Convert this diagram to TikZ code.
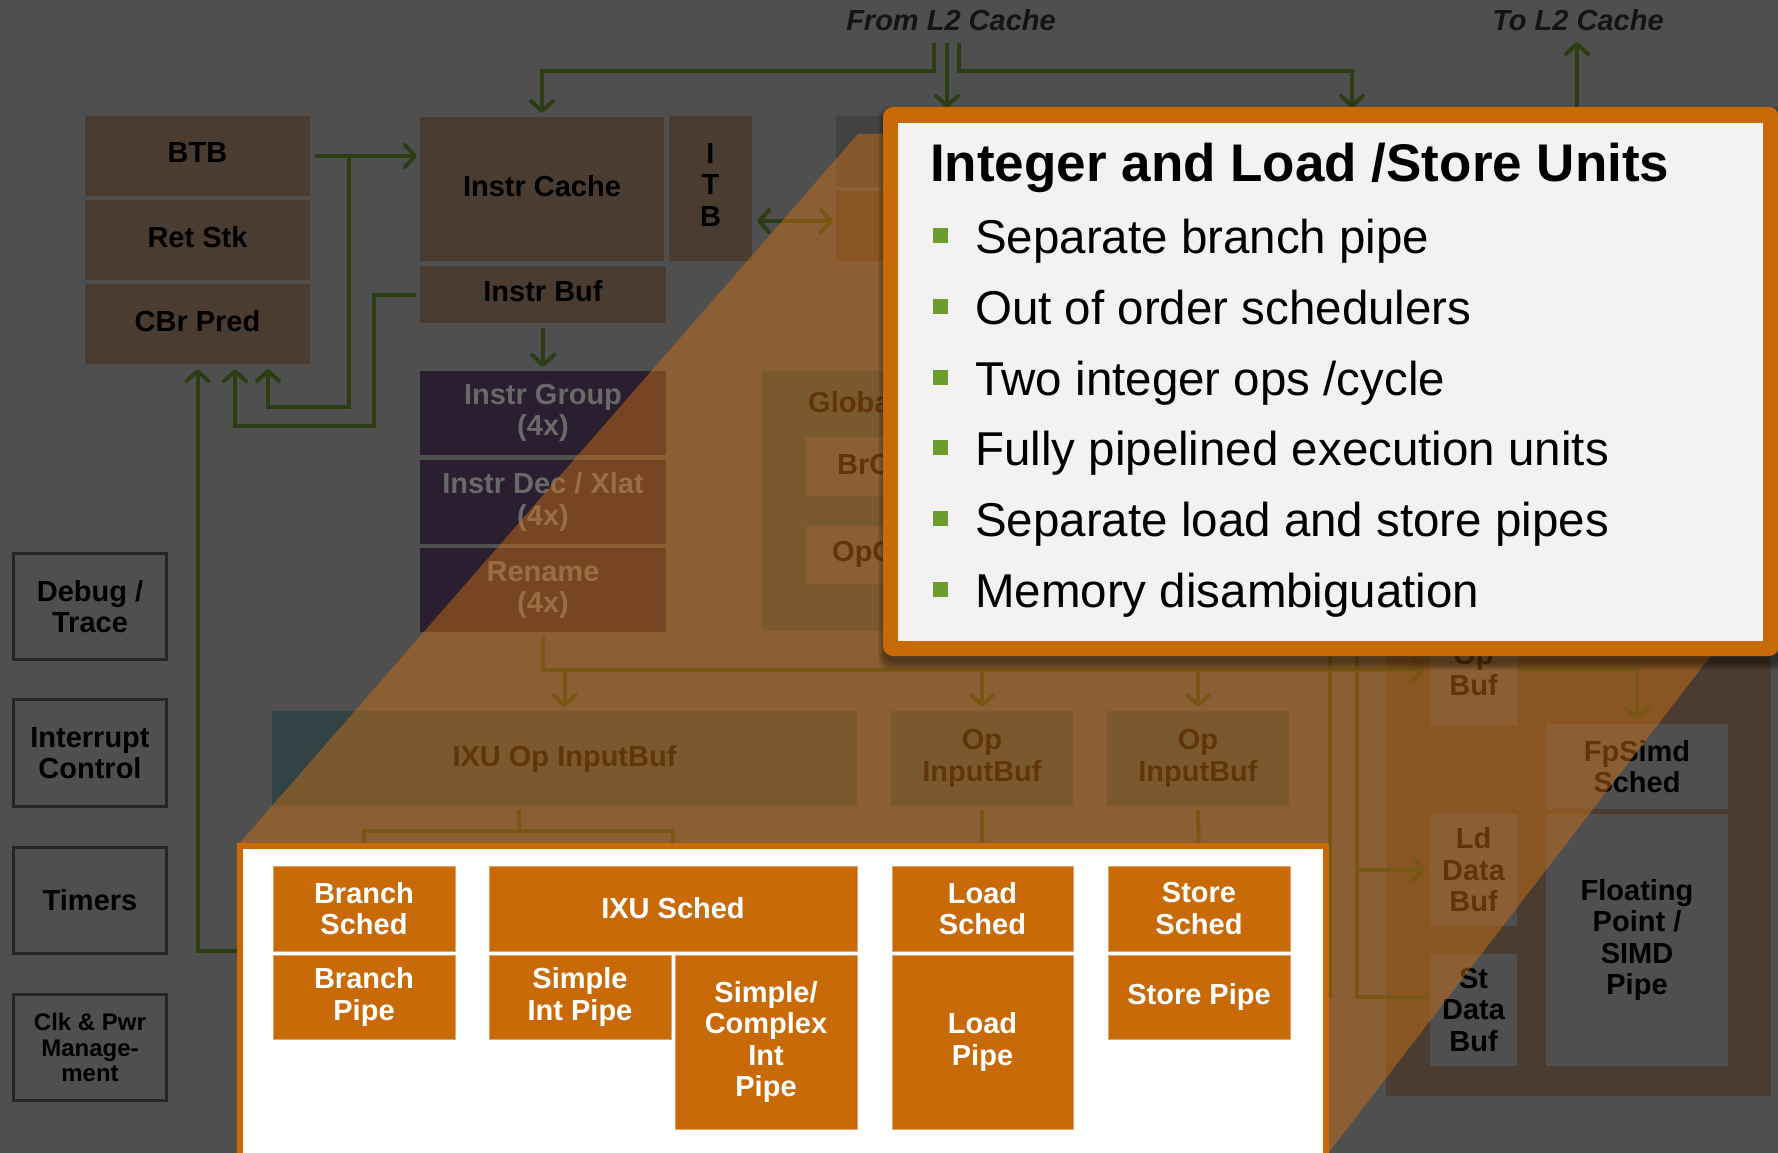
\documentclass[tikz,border=0pt]{standalone}
\usepackage{fontspec}
\setmainfont{Liberation Sans}
\usetikzlibrary{arrows.meta}

\definecolor{bgc}{RGB}{79,79,79}
\definecolor{brownblk}{RGB}{74,60,48}
\definecolor{purpleblk}{RGB}{42,30,48}
\definecolor{tealblk}{RGB}{50,67,69}
\definecolor{grayblk}{RGB}{66,66,66}
\definecolor{wirec}{RGB}{44,61,20}
\definecolor{orng}{RGB}{201,106,8}
\definecolor{tintc}{RGB}{211,116,20}
\definecolor{panelc}{RGB}{242,242,242}
\definecolor{bulletc}{RGB}{110,155,45}
\definecolor{outlc}{RGB}{38,38,38}
\definecolor{dimtxt}{RGB}{105,105,105}

\newcommand\lblfont{\fontsize{29}{31.5}\selectfont\bfseries}
\newcommand\clkfont{\fontsize{24}{25.5}\selectfont\bfseries}
\newcommand\calltitlefont{\fontsize{53}{60}\selectfont\bfseries}
\newcommand\callitemfont{\fontsize{47.5}{56}\selectfont}

\pgfdeclarelayer{diag}
\pgfdeclarelayer{tintl}
\pgfdeclarelayer{panel}
\pgfsetlayers{diag,tintl,panel,main}

\tikzset{
  blk/.style 2 args={rectangle, inner sep=0pt, outer sep=0pt, anchor=north west,
    minimum width=#1pt, minimum height=#2pt, align=center, font=\lblfont, text=black},
  raised/.style={text depth=7pt},
  side/.style 2 args={rectangle, inner sep=0pt, outer sep=0pt, anchor=north west,
    draw=outlc, line width=3pt, minimum width=#1pt, minimum height=#2pt,
    align=center, font=\lblfont, text=black},
  obox/.style 2 args={rectangle, inner sep=0pt, outer sep=0pt, anchor=north west,
    minimum width=#1pt, minimum height=#2pt, fill=orng, draw=orng!60!white,
    line width=0.8pt, align=center, font=\lblfont, text=white},
  wire/.style={draw=wirec, line width=4pt},
  arr/.style={wire, -{Straight Barb[length=10pt,width=22pt,round]}, shorten >=3pt},
  darr/.style={wire, {Straight Barb[length=10pt,width=22pt,round]}-{Straight Barb[length=10pt,width=22pt,round]}},
  bsq/.style={rectangle, fill=bulletc, inner sep=0pt, minimum size=15pt},
  itm/.style={anchor=base west, font=\callitemfont, text=black, inner sep=0pt},
}

\begin{document}
\begin{tikzpicture}[x=1pt,y=-1pt]
\useasboundingbox (0,0) rectangle (1778,1153);

\begin{pgfonlayer}{diag}
\fill[bgc] (0,0) rectangle (1778,1153);

% ---------- front end ----------
\node[blk={225}{80}, raised, fill=brownblk] (btb) at (85,116) {BTB};
\node[blk={225}{80}, raised, fill=brownblk] (retstk) at (85,200) {Ret Stk};
\node[blk={225}{80}, raised, fill=brownblk] (cbr) at (85,284) {CBr Pred};
\node[blk={244}{144}, raised, fill=brownblk] (icache) at (420,117) {Instr Cache};
\node[blk={83}{145}, raised, fill=brownblk] (itb) at (669,116) {I\\T\\B};
\node[blk={246}{57}, raised, fill=brownblk] (ibuf) at (420,266) {Instr Buf};
\node[blk={246}{84}, fill=purpleblk, text=dimtxt] (igrp) at (420,371) {Instr Group\\(4x)};
\node[blk={246}{84}, fill=purpleblk, text=dimtxt] (idec) at (420,460) {Instr Dec / Xlat\\(4x)};
\node[blk={246}{84}, fill=purpleblk, text=dimtxt] (rename) at (420,548) {Rename\\(4x)};
\node[blk={100}{71}, fill=grayblk] (tlbu) at (836,116) {};
\node[blk={100}{70}, fill=brownblk] (tlbl) at (836,191) {};

% ---------- global / op caches ----------
\node[blk={230}{260}, fill=tealblk] (glob) at (762,371) {};
\node[blk={150}{59}, fill=bgc] (brc) at (806,437) {};
\node[blk={150}{58}, fill=bgc] (opc) at (806,526) {};
\node[anchor=west, inner sep=0pt, font=\lblfont] (globt) at (808,402) {Global};
\node[anchor=west, inner sep=0pt, font=\lblfont] (brct) at (837,465) {BrC};
\node[anchor=west, inner sep=0pt, font=\lblfont] (opct) at (832,554) {OpC};

% ---------- input buffers ----------
\node[blk={585}{95}, fill=tealblk] (ixu) at (272,711) {IXU Op InputBuf};
\node[blk={182}{95}, fill=tealblk] (opib1) at (891,711) {Op\\InputBuf};
\node[blk={182}{95}, fill=tealblk] (opib2) at (1107,711) {Op\\InputBuf};

% ---------- floating point ----------
\node[blk={385}{536}, fill=brownblk] (fpout) at (1386,560) {};
\node[blk={87}{112}, fill=bgc] (opbuf) at (1430,614) {Op\\Buf};
\node[blk={182}{85}, fill=bgc] (fpsch) at (1546,724) {FpSimd\\Sched};
\node[blk={87}{112}, fill=bgc] (lddb) at (1430,814) {Ld\\Data\\Buf};
\node[blk={87}{112}, fill=bgc] (stdb) at (1430,954) {St\\Data\\Buf};
\node[blk={182}{252}, fill=bgc] (fppipe) at (1546,814) {Floating\\Point /\\SIMD\\Pipe};

% ---------- side blocks ----------
\node[side={153}{106}] (debug) at (13.5,553.5) {Debug /\\Trace};
\node[side={153}{107}] (intr) at (13.5,699.5) {Interrupt\\Control};
\node[side={153}{106}] (timers) at (13.5,847.5) {Timers};
\node[side={153}{106}, font=\clkfont] (clk) at (13.5,994.5) {Clk \& Pwr\\Manage-\\ment};

% ---------- L2 labels ----------
\node[font=\lblfont\itshape, text=black!92] (froml2) at (951,20) {From L2 Cache};
\node[font=\lblfont\itshape, text=black!92] (tol2) at (1578,20) {To L2 Cache};
\end{pgfonlayer}

% ---------- integer / load-store blocks ----------
\node[obox={182}{85}] (bsched) at (273,866) {Branch\\Sched};
\node[obox={182}{84}] (bpipe) at (273,955) {Branch\\Pipe};
\node[obox={368}{85}] (ixusched) at (489,866) {IXU Sched};
\node[obox={182}{84}] (simpint) at (489,955) {Simple\\Int Pipe};
\node[obox={182}{174}] (cplx) at (675,955) {Simple/\\Complex\\Int\\Pipe};
\node[obox={181}{85}] (lsched) at (892,866) {Load\\Sched};
\node[obox={181}{174}] (lpipe) at (892,955) {Load\\Pipe};
\node[obox={182}{85}] (ssched) at (1108,866) {Store\\Sched};
\node[obox={182}{84}] (spipe) at (1108,955) {Store Pipe};

% ---------- connectors ----------
\begin{pgfonlayer}{diag}
\coordinate (l2a) at (934,43);
\coordinate (l2b) at (947,43);
\coordinate (l2c) at (959,43);
\coordinate (l2ta) at (542,71);
\coordinate (l2tc) at (1352,71);
\coordinate (l2db) at (947,108);
\coordinate (l2dc) at (1352,108);
\coordinate (tl2s) at (1577,112);
\coordinate (tl2e) at (1577,42);
\draw[arr, shorten >=4pt] (l2a) |- (l2ta) -- (icache.north);
\draw[arr, shorten >=0pt] (l2b) -- (l2db);
\draw[arr, shorten >=0pt] (l2c) |- (l2tc) -- (l2dc);
\draw[arr, shorten >=0pt] (tl2s) -- (tl2e);

\coordinate (j2) at (349,156);
\coordinate (j3) at (268,407);
\coordinate (j4) at (374,426);
\coordinate (j5) at (235,364);
\draw[arr, shorten <=5pt] (btb.east) -- (icache.west |- btb.east);
\draw[arr, shorten >=5pt] (j2) |- (j3) -- (j3 |- cbr.south);
\draw[arr, shorten <=4pt, shorten >=5pt] (ibuf.west) -| (j4) -| (j5);
\draw[arr, shorten >=5pt] (bsched.south west) -| (cbr.south);

\coordinate (a1) at (757,221);
\coordinate (a2) at (833,221);
\draw[darr] (a1) -- (a2);

\draw[arr, shorten <=5pt, shorten >=4pt] (ibuf.south) -- (igrp.north);
\draw[arr, shorten <=5pt, shorten >=5pt] (rename.south) |- (opbuf.west);
\draw[arr, shorten >=4pt] (ixu.north |- opbuf.west) -- (ixu.north);
\draw[arr, shorten >=4pt] (opib1.north |- opbuf.west) -- (opib1.north);
\draw[arr, shorten >=4pt] (opib2.north |- opbuf.west) -- (opib2.north);

\coordinate (brk) at (518.5,831);
\draw[wire, shorten <=4pt] (brk |- ixu.south) -- (brk);
\draw[wire] (bsched.north) |- (brk) -| (ixusched.north);
\draw[wire, shorten <=4pt] (opib1.south) -- (lsched.north);
\draw[wire, shorten <=4pt] (opib2.south) -- (ssched.north);

\coordinate (v1t) at (1330,600);
\coordinate (v1b) at (1330,998);
\coordinate (v2t) at (1357,600);
\coordinate (v2b) at (1426,997);
\draw[wire] (v1t) -- (v1b);
\draw[wire] (v2t) |- (v2b);
\draw[arr, shorten >=5pt] (v2t |- lddb.west) -- (lddb.west);
\draw[arr, shorten <=4pt, shorten >=4pt] (opbuf.east) -| (fpsch.north);
\end{pgfonlayer}

% ---------- highlight cone ----------
\begin{pgfonlayer}{tintl}
\begin{scope}
\clip (0,0) rectangle (1778,1153);
\fill[tintc, opacity=0.46] (238,1160) -- (238,845) -- (858,134) -- (2112,134) -- (1323,1160) -- cycle;
\end{scope}
\end{pgfonlayer}

% ---------- panels ----------
\begin{pgfonlayer}{panel}
\begin{scope}
\clip (0,0) rectangle (1778,1153);
\foreach \i in {1,...,8}
  \fill[black, opacity=0.06, rounded corners=10pt]
    ({886-\i},{114-\i}) rectangle ({1782+\i},{662+\i});
\fill[orng, rounded corners=10pt] (883,107) rectangle (1779,656);
\fill[panelc] (898,123) rectangle (1763,641);
\fill[orng] (237,843) rectangle (1329,1160);
\fill[white] (243,849) rectangle (1323,1160);
\end{scope}
\end{pgfonlayer}

\node[anchor=base west, inner sep=0pt, font=\calltitlefont, text=black] (ttl) at (930,182) {Integer and Load /Store Units};
\node[itm] (i1) at (975,253) {Separate branch pipe};
\node[itm] (i2) at (975,324) {Out of order schedulers};
\node[itm] (i3) at (975,395) {Two integer ops /cycle};
\node[itm] (i4) at (975,465) {Fully pipelined execution units};
\node[itm] (i5) at (975,536) {Separate load and store pipes};
\node[itm] (i6) at (975,607) {Memory disambiguation};
\node[bsq] (s1) at (940.5,235.5) {};
\node[bsq] (s2) at (940.5,306.5) {};
\node[bsq] (s3) at (940.5,377.5) {};
\node[bsq] (s4) at (940.5,447.5) {};
\node[bsq] (s5) at (940.5,518.5) {};
\node[bsq] (s6) at (940.5,589.5) {};
\end{tikzpicture}
\end{document}
